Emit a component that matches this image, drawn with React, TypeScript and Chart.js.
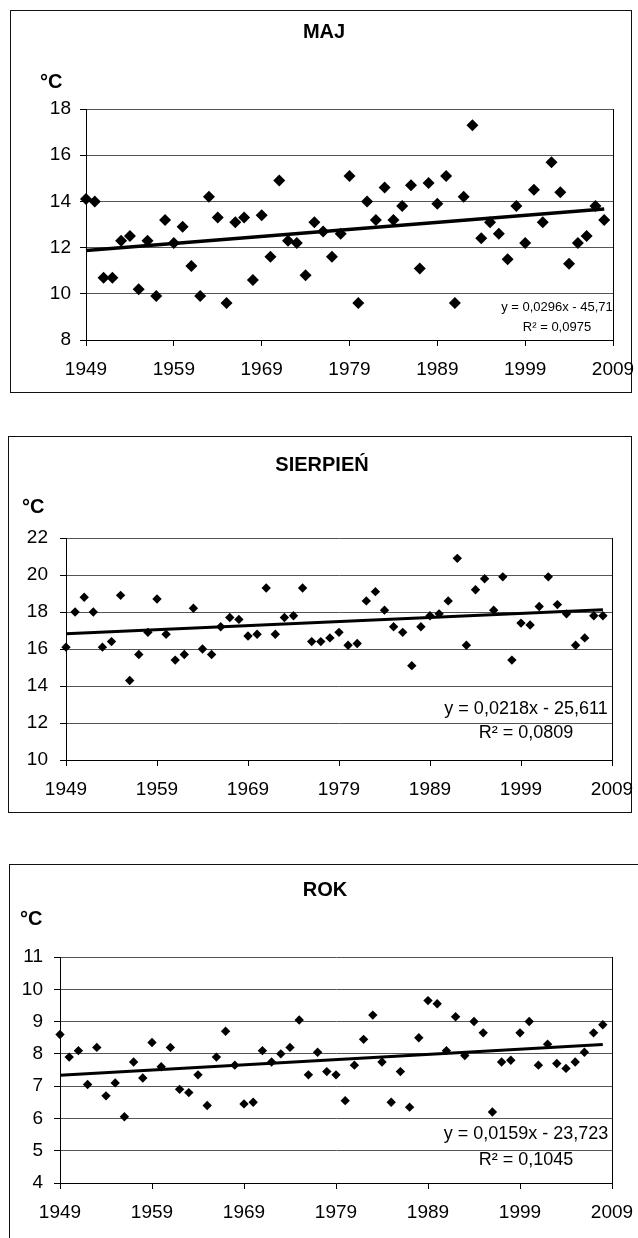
import React, { useEffect, useRef } from "react";
import { Chart, registerables } from "chart.js";
Chart.register(...registerables);

const FONT = '"Liberation Sans", Arial, sans-serif';

const YEARS = [
  1949, 1950, 1951, 1952, 1953, 1954, 1955, 1956, 1957, 1958,
  1959, 1960, 1961, 1962, 1963, 1964, 1965, 1966, 1967, 1968,
  1969, 1970, 1971, 1972, 1973, 1974, 1975, 1976, 1977, 1978,
  1979, 1980, 1981, 1982, 1983, 1984, 1985, 1986, 1987, 1988,
  1989, 1990, 1991, 1992, 1993, 1994, 1995, 1996, 1997, 1998,
  1999, 2000, 2001, 2002, 2003, 2004, 2005, 2006, 2007, 2008,
];

const MAJ = [
  14.1, 14.0, 10.7, 10.7, 12.3, 12.5, 10.2, 12.3, 9.9, 13.2,
  12.2, 12.9, 11.2, 9.9, 14.2, 13.3, 9.6, 13.1, 13.3, 10.6,
  13.4, 11.6, 14.9, 12.3, 12.2, 10.8, 13.1, 12.7, 11.6, 12.6,
  15.1, 9.6, 14.0, 13.2, 14.6, 13.2, 13.8, 14.7, 11.1, 14.8,
  13.9, 15.1, 9.6, 14.2, 17.3, 12.4, 13.1, 12.6, 11.5, 13.8,
  12.2, 14.5, 13.1, 15.7, 14.4, 11.3, 12.2, 12.5, 13.8, 13.2,
];

const SIERPIEN = [
  16.1, 18.0, 18.8, 18.0, 16.1, 16.4, 18.9, 14.3, 15.7, 16.9,
  18.7, 16.8, 15.4, 15.7, 18.2, 16.0, 15.7, 17.2, 17.7, 17.6,
  16.7, 16.8, 19.3, 16.8, 17.7, 17.8, 19.3, 16.4, 16.4, 16.6,
  16.9, 16.2, 16.3, 18.6, 19.1, 18.1, 17.2, 16.9, 15.1, 17.2,
  17.8, 17.9, 18.6, 20.9, 16.2, 19.2, 19.8, 18.1, 19.9, 15.4,
  17.4, 17.3, 18.3, 19.9, 18.4, 17.9, 16.2, 16.6, 17.8, 17.8,
];

const ROK = [
  8.6, 7.9, 8.1, 7.05, 8.2, 6.7, 7.1, 6.05, 7.75, 7.25,
  8.35, 7.6, 8.2, 6.9, 6.8, 7.35, 6.4, 7.9, 8.7, 7.65,
  6.45, 6.5, 8.1, 7.75, 8.0, 8.2, 9.05, 7.35, 8.05, 7.45,
  7.35, 6.55, 7.65, 8.45, 9.2, 7.75, 6.5, 7.45, 6.35, 8.5,
  9.65, 9.55, 8.1, 9.15, 7.95, 9.0, 8.65, 6.2, 7.75, 7.8,
  8.65, 9.0, 7.65, 8.3, 7.7, 7.55, 7.75, 8.05, 8.65, 8.9,
];

const TREND_YEARS = [1949, 2008];
const MAJ_TREND = [11.87, 13.67];
const SIERPIEN_TREND = [16.82, 18.12];
const ROK_TREND = [7.34, 8.29];

const X_TICKS = [1949, 1959, 1969, 1979, 1989, 1999, 2009];
const MAJ_Y_TICKS = [8, 10, 12, 14, 16, 18];
const SIERPIEN_Y_TICKS = [10, 12, 14, 16, 18, 20, 22];
const ROK_Y_TICKS = [4, 5, 6, 7, 8, 9, 10, 11];

const MAJ_EQ = ["y = 0,0296x - 45,71", "R² = 0,0975"];
const SIERPIEN_EQ = ["y = 0,0218x - 25,611", "R² = 0,0809"];
const ROK_EQ = ["y = 0,0159x - 23,723", "R² = 0,1045"];

type Cfg = {
  title: string;
  values: number[];
  trend: number[];
  yTicks: number[];
  eq: string[];
  box: { left: number; top: number; right: number; bottom: number };
  plot: { left: number; right: number; top: number; bottom: number };
  canvasBottom: number;
  titlePos: [number, number];
  unitPos: [number, number];
  eqPos: [number, number, number];
  eqSize: number;
  tickSize: number;
  pointRadius: number;
  trendWidth: number;
  yPad: number;
  xPad: number;
};

function TrendChart({ cfg }: { cfg: Cfg }) {
  const ref = useRef<HTMLCanvasElement | null>(null);
  useEffect(() => {
    if (!ref.current) return;
    const top = cfg.box.top;
    const canvasW = 638;
    const canvasH = cfg.canvasBottom - top;
    const overlay = {
      id: "overlay",
      afterDraw(chart: any) {
        const ctx = chart.ctx;
        ctx.save();
        ctx.fillStyle = "#000";
        ctx.textBaseline = "middle";
        ctx.font = `bold 20px ${FONT}`;
        ctx.textAlign = "center";
        ctx.fillText(cfg.title, cfg.titlePos[0], cfg.titlePos[1] - top);
        ctx.textAlign = "left";
        ctx.fillText("°C", cfg.unitPos[0], cfg.unitPos[1] - top);
        ctx.font = `${cfg.eqSize}px ${FONT}`;
        ctx.textAlign = "center";
        ctx.fillText(cfg.eq[0], cfg.eqPos[0], cfg.eqPos[1] - top);
        ctx.fillText(cfg.eq[1], cfg.eqPos[0], cfg.eqPos[2] - top);
        ctx.restore();
      },
    };
    const chart = new Chart(ref.current, {
      type: "scatter",
      data: {
        datasets: [
          {
            type: "scatter",
            data: YEARS.map((y, i) => ({ x: y, y: cfg.values[i] })),
            pointStyle: "rectRot",
            pointRadius: cfg.pointRadius,
            pointBackgroundColor: "#000",
            pointBorderColor: "#000",
            pointBorderWidth: 0,
            clip: false,
            order: 2,
          } as any,
          {
            type: "line",
            data: TREND_YEARS.map((y, i) => ({ x: y, y: cfg.trend[i] })),
            borderColor: "#000",
            borderWidth: cfg.trendWidth,
            pointRadius: 0,
            showLine: true,
            fill: false,
            clip: false,
            order: 1,
          } as any,
        ],
      },
      options: {
        animation: false,
        responsive: true,
        maintainAspectRatio: false,
        layout: {
          padding: {
            left: 0,
            right: canvasW - cfg.plot.right,
            top: cfg.plot.top - top,
            bottom: 0,
          },
        },
        plugins: { legend: { display: false }, tooltip: { enabled: false }, title: { display: false } },
        scales: {
          x: {
            type: "linear",
            min: X_TICKS[0],
            max: X_TICKS[X_TICKS.length - 1],
            afterBuildTicks: (s: any) => {
              s.ticks = X_TICKS.map((v) => ({ value: v }));
            },
            afterFit: (s: any) => {
              s.height = canvasH - (cfg.plot.bottom - top);
              s.paddingLeft = 0;
              s.paddingRight = 0;
            },
            border: { display: true, color: "#000", width: 1 },
            grid: {
              drawOnChartArea: true,
              color: (c: any) => (c.tick && c.tick.value === X_TICKS[X_TICKS.length - 1] ? "#000" : "rgba(0,0,0,0)"),
              tickColor: "#000",
              tickLength: 6,
              lineWidth: 1,
            },
            ticks: {
              color: "#000",
              padding: cfg.xPad,
              maxRotation: 0,
              autoSkip: false,
              font: { family: FONT, size: cfg.tickSize },
              callback: (v: any) => String(v),
            },
          },
          y: {
            type: "linear",
            min: cfg.yTicks[0],
            max: cfg.yTicks[cfg.yTicks.length - 1],
            afterBuildTicks: (s: any) => {
              s.ticks = cfg.yTicks.map((v) => ({ value: v }));
            },
            afterFit: (s: any) => {
              s.width = cfg.plot.left;
              s.paddingTop = 0;
              s.paddingBottom = 0;
            },
            border: { display: true, color: "#000", width: 1 },
            grid: {
              color: "#555",
              tickColor: "#000",
              tickLength: 6,
              lineWidth: 1,
            },
            ticks: {
              color: "#000",
              padding: cfg.yPad,
              autoSkip: false,
              font: { family: FONT, size: cfg.tickSize },
              callback: (v: any) => String(v),
            },
          },
        },
      },
      plugins: [overlay],
    } as any);
    return () => chart.destroy();
  }, [cfg]);

  const b = cfg.box;
  return (
    <>
      <div
        style={{
          position: "absolute",
          left: b.left,
          top: b.top,
          width: b.right - b.left,
          height: b.bottom - b.top,
          border: "1px solid #111",
          boxSizing: "border-box",
        }}
      />
      <div
        style={{
          position: "absolute",
          left: 0,
          top: b.top,
          width: 638,
          height: cfg.canvasBottom - b.top,
        }}
      >
        <canvas ref={ref} />
      </div>
    </>
  );
}

const CHARTS: Cfg[] = [
  {
    title: "MAJ",
    values: MAJ,
    trend: MAJ_TREND,
    yTicks: MAJ_Y_TICKS,
    eq: MAJ_EQ,
    box: { left: 10, top: 10, right: 632, bottom: 393 },
    plot: { left: 86, right: 613, top: 109, bottom: 340 },
    canvasBottom: 393,
    titlePos: [324, 32],
    unitPos: [40, 82],
    eqPos: [557, 307, 327],
    eqSize: 13,
    tickSize: 19,
    pointRadius: 6,
    trendWidth: 3.5,
    yPad: 9,
    xPad: 12,
  },
  {
    title: "SIERPIEŃ",
    values: SIERPIEN,
    trend: SIERPIEN_TREND,
    yTicks: SIERPIEN_Y_TICKS,
    eq: SIERPIEN_EQ,
    box: { left: 8, top: 436, right: 632, bottom: 813 },
    plot: { left: 66, right: 612, top: 538, bottom: 760 },
    canvasBottom: 813,
    titlePos: [322, 465],
    unitPos: [22, 507],
    eqPos: [526, 709, 733],
    eqSize: 18,
    tickSize: 19,
    pointRadius: 4.7,
    trendWidth: 3,
    yPad: 12,
    xPad: 12,
  },
  {
    title: "ROK",
    values: ROK,
    trend: ROK_TREND,
    yTicks: ROK_Y_TICKS,
    eq: ROK_EQ,
    box: { left: 9, top: 864, right: 660, bottom: 1300 },
    plot: { left: 60, right: 612, top: 957, bottom: 1183 },
    canvasBottom: 1238,
    titlePos: [325, 890],
    unitPos: [20, 919],
    eqPos: [526, 1134, 1160],
    eqSize: 18,
    tickSize: 19,
    pointRadius: 4.7,
    trendWidth: 3,
    yPad: 11,
    xPad: 12,
  },
];

export default function App() {
  return (
    <div
      style={{
        position: "absolute",
        left: 0,
        top: 0,
        width: 638,
        height: 1238,
        overflow: "hidden",
        background: "#fff",
      }}
    >
      {CHARTS.map((c) => (
        <TrendChart key={c.title} cfg={c} />
      ))}
    </div>
  );
}
